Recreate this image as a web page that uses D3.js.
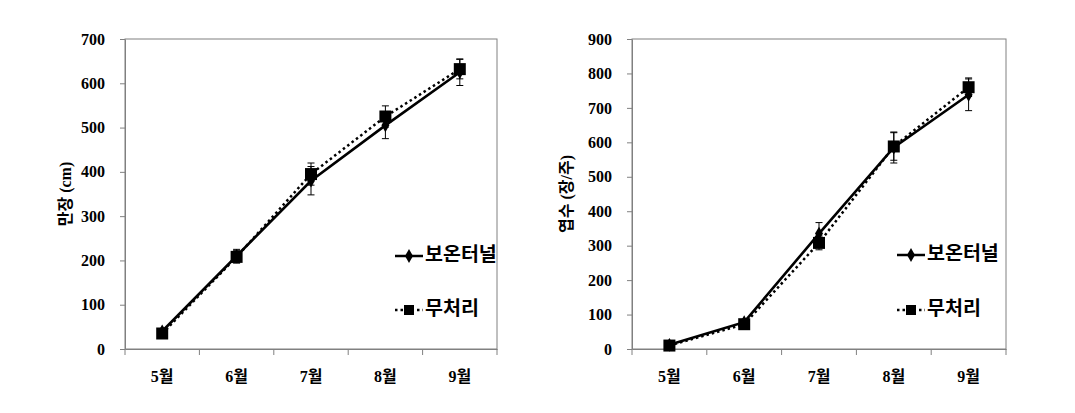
<!DOCTYPE html>
<html>
  <head>
    <meta charset="UTF-8">
    <script src="https://cdnjs.cloudflare.com/ajax/libs/d3/7.8.5/d3.min.js"></script>
    <style>
      body { margin: 0; background: #fff; }
      .tick-label { font-family: 'Liberation Serif', 'Noto Sans CJK KR', serif; font-weight: bold; font-size: 16px; fill: #000; }
      .y-title { font-family: 'Liberation Serif', 'Noto Sans CJK KR', serif; font-weight: bold; font-size: 16px; fill: #000; }
      .legend-text { font-family: 'Noto Sans CJK KR', sans-serif; font-weight: bold; font-size: 19.5px; fill: #000; }
    </style>
  </head>
  <body>
    <svg id="chart" width="1075" height="413"></svg>
    <script>
      const months = ['5월', '6월', '7월', '8월', '9월']
      const seriesNames = ['보온터널', '무처리']

      // 만장 (cm)
      const lengthTunnel = [40, 210, 380, 505, 625]
      const lengthTunnelErr = [6, 15, 32, 30, 30]
      const lengthControl = [35, 208, 395, 525, 632]
      const lengthControlErr = [5, 14, 25, 24, 22]
      const lengthTicks = [0, 100, 200, 300, 400, 500, 600, 700]

      // 엽수 (장/주)
      const leafTunnel = [12, 78, 335, 585, 738]
      const leafTunnelErr = [4, 8, 32, 45, 46]
      const leafControl = [10, 72, 308, 588, 760]
      const leafControlErr = [3, 6, 20, 40, 27]
      const leafTicks = [0, 100, 200, 300, 400, 500, 600, 700, 800, 900]

      const svg = d3.select('#chart')

      function drawChart(opts) {
        const x = d3.scaleBand().domain(months).range([opts.left, opts.right])
        const y = d3.scaleLinear().domain([0, d3.max(opts.ticks)]).range([opts.bottom, opts.top])
        const g = svg.append('g')

        // plot frame
        g.append('rect')
          .attr('x', opts.left).attr('y', opts.top)
          .attr('width', opts.right - opts.left).attr('height', opts.bottom - opts.top)
          .attr('fill', 'none').attr('stroke', '#808080').attr('stroke-width', 1)

        // y axis
        const yAxis = g.append('g')
          .attr('transform', `translate(${opts.left},0)`)
          .call(d3.axisLeft(y).tickValues(opts.ticks).tickSize(5).tickSizeOuter(0).tickPadding(15))
        yAxis.select('.domain').attr('stroke', '#808080')
        yAxis.selectAll('.tick line').attr('stroke', '#808080')
        yAxis.selectAll('.tick text').attr('class', 'tick-label').attr('font-family', null).attr('font-size', null)

        // x axis: labels at band centres, ticks at band edges
        const xAxis = g.append('g')
          .attr('transform', `translate(0,${opts.bottom})`)
          .call(d3.axisBottom(x).tickSize(0).tickPadding(22))
        xAxis.select('.domain').attr('stroke', '#808080')
        xAxis.selectAll('.tick text').attr('class', 'tick-label').attr('font-family', null).attr('font-size', null)
        const edges = months.map(m => x(m)).concat([x.range()[1]])
        g.selectAll('.xedge').data(edges).enter().append('line')
          .attr('x1', d => d).attr('x2', d => d)
          .attr('y1', opts.bottom).attr('y2', opts.bottom + 6)
          .attr('stroke', '#808080')

        // y title
        g.append('text')
          .attr('class', 'y-title')
          .attr('transform', `translate(${opts.titleX},${(opts.top + opts.bottom) / 2}) rotate(-90)`)
          .attr('text-anchor', 'middle')
          .attr('dominant-baseline', 'middle')
          .text(opts.title)

        const cx = i => x(months[i]) + x.bandwidth() / 2
        const line = d3.line().x((d, i) => cx(i)).y(d => y(d))

        const series = [
          { values: opts.tunnel, err: opts.tunnelErr, dash: null, marker: 'diamond' },
          { values: opts.control, err: opts.controlErr, dash: '2.5,3', marker: 'square' }
        ]

        series.forEach(s => {
          g.append('path')
            .datum(s.values)
            .attr('d', line)
            .attr('fill', 'none')
            .attr('stroke', '#000')
            .attr('stroke-width', s.dash ? 2.5 : 2.6)
            .attr('stroke-dasharray', s.dash)
        })

        series.forEach(s => {
          s.values.forEach((v, i) => {
            const e = s.err[i]
            const px = cx(i)
            g.append('line').attr('x1', px).attr('x2', px).attr('y1', y(v - e)).attr('y2', y(v + e)).attr('stroke', '#000')
            ;[v - e, v + e].forEach(c => {
              g.append('line').attr('x1', px - 3.5).attr('x2', px + 3.5).attr('y1', y(c)).attr('y2', y(c)).attr('stroke', '#000')
            })
          })
        })

        series.forEach(s => {
          const sym = s.marker === 'diamond' ? d3.symbolDiamond : d3.symbolSquare
          const size = s.marker === 'diamond' ? 55 : 144
          g.selectAll(null).data(s.values).enter().append('path')
            .attr('d', d3.symbol().type(sym).size(size))
            .attr('transform', (d, i) => `translate(${cx(i)},${y(d)})`)
            .attr('fill', '#000')
        })

        // legend
        seriesNames.forEach((name, k) => {
          const s = series[k]
          const ly = opts.legendY[k]
          g.append('line')
            .attr('x1', opts.legendX).attr('x2', opts.legendX + 28)
            .attr('y1', ly).attr('y2', ly)
            .attr('stroke', '#000').attr('stroke-width', 2.5)
            .attr('stroke-dasharray', s.dash)
          g.append('path')
            .attr('d', d3.symbol().type(s.marker === 'diamond' ? d3.symbolDiamond : d3.symbolSquare).size(s.marker === 'diamond' ? 55 : 100))
            .attr('transform', `translate(${opts.legendX + 14},${ly})`)
          g.append('text')
            .attr('class', 'legend-text')
            .attr('x', opts.legendX + 30).attr('y', ly)
            .attr('dominant-baseline', 'middle')
            .text(name)
        })
      }

      drawChart({
        left: 125, right: 497, top: 39, bottom: 349,
        ticks: lengthTicks, title: '만장 (cm)', titleX: 67,
        tunnel: lengthTunnel, tunnelErr: lengthTunnelErr,
        control: lengthControl, controlErr: lengthControlErr,
        legendX: 395, legendY: [256, 310]
      })

      drawChart({
        left: 632, right: 1006, top: 39, bottom: 349,
        ticks: leafTicks, title: '엽수 (장/주)', titleX: 568,
        tunnel: leafTunnel, tunnelErr: leafTunnelErr,
        control: leafControl, controlErr: leafControlErr,
        legendX: 897, legendY: [255, 310]
      })
    </script>
  </body>
</html>
